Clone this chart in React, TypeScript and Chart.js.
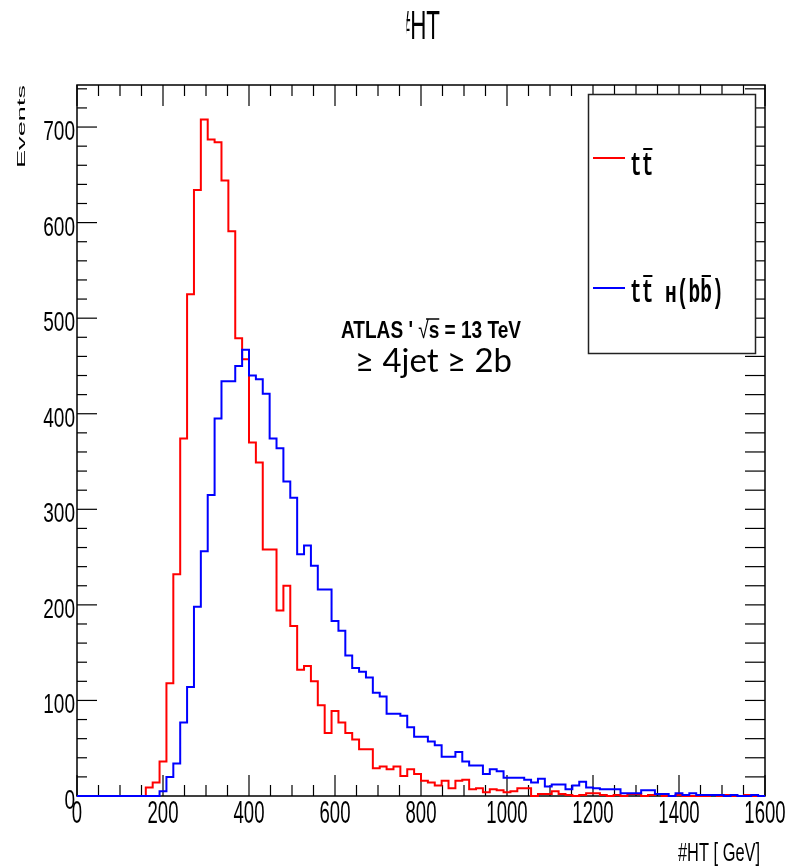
import React, { useEffect, useRef } from 'react';
import { Chart, registerables } from 'chart.js';

Chart.register(...registerables);

// ---------------- data ----------------
const HT_MIN = 0;
const HT_MAX = 1600;
const BIN_WIDTH = 16; // GeV, 100 bins
const Y_MAX = 744;

// t tbar (red)
const TT_COUNTS = [
  0, 0, 0, 0, 0, 0, 0, 0, 0, 0,
  9, 14, 36, 118, 232, 374, 525, 634, 708, 687,
  684, 644, 591, 479, 457, 370, 349, 258, 258, 194,
  220, 178, 132, 136, 120, 95, 66, 89, 77, 66,
  59, 49, 49, 29, 31, 28, 31, 21, 28, 23,
  16, 14, 11, 16, 8, 16, 17, 7, 8, 4,
  7, 6, 4, 5, 8, 8, 0, 2, 2, 5,
  2, 1, 0, 1, 3, 3, 1, 0, 1, 0,
  2, 2, 0, 1, 2, 0, 0, 1, 0, 0,
  0, 0, 1, 0, 1, 0, 0, 1, 0, 0,
];

// t tbar H(b bbar) (blue)
const TTH_COUNTS = [
  0, 0, 0, 0, 0, 0, 0, 0, 0, 0,
  0, 0, 5, 20, 34, 77, 114, 198, 256, 315,
  395, 434, 434, 450, 467, 440, 436, 421, 374, 364,
  329, 312, 253, 262, 241, 216, 216, 183, 173, 147,
  134, 130, 124, 108, 104, 86, 86, 84, 72, 62,
  62, 57, 53, 41, 41, 46, 36, 32, 32, 23,
  28, 26, 19, 19, 19, 17, 14, 18, 10, 12,
  12, 7, 11, 15, 9, 8, 7, 7, 7, 3,
  3, 3, 6, 6, 2, 2, 0, 3, 1, 3,
  1, 1, 1, 1, 0, 1, 0, 0, 1, 0,
];

const X_TICK_VALUES = [0, 200, 400, 600, 800, 1000, 1200, 1400, 1600];
const X_TICK_LABELS = ['0', '200', '400', '600', '800', '1000', '1200', '1400', '1600'];
const Y_TICK_VALUES = [0, 100, 200, 300, 400, 500, 600, 700];
const Y_TICK_LABELS = ['0', '100', '200', '300', '400', '500', '600', '700'];

const SERIES_NAMES = ['tt\u0304', 'tt\u0304 H(bb\u0304)'];
const SERIES_COLORS = ['#ff0000', '#0000ff'];

const TITLE = '#HT';
const X_TITLE = '#HT [ GeV]';
const Y_TITLE = 'Events';
const ATLAS_PARTS = ["ATLAS ' ", '\u221A', 's', ' = 13 TeV'];
const SELECTION = '\u2265 4jet \u2265 2b';

// legend glyphs drawn with manual overbars
const LEGEND_GLYPHS = [
  [{ c: 't' }, { c: 't', bar: true }],
  [
    { c: 't' }, { c: 't', bar: true }, { c: ' ' }, { c: 'H', small: true },
    { c: '(' }, { c: 'b' }, { c: 'b', bar: true }, { c: ')' },
  ],
];

const SANS = '"Liberation Sans", Arial, sans-serif';
const MONO = '"Liberation Mono", "DejaVu Sans Mono", monospace';

function toSteps(counts: number[]) {
  const pts = counts.map((v, i) => ({ x: HT_MIN + i * BIN_WIDTH, y: v }));
  pts.push({ x: HT_MAX, y: counts[counts.length - 1] });
  return pts;
}

type TextOpts = {
  size: number;
  family?: string;
  weight?: string;
  width?: number;
  sx?: number;
  sy?: number;
  align?: CanvasTextAlign;
  baseline?: CanvasTextBaseline;
  rotate?: number;
  color?: string;
};

function drawText(ctx: CanvasRenderingContext2D, text: string, x: number, y: number, o: TextOpts) {
  ctx.save();
  ctx.font = `${o.weight ?? 'normal'} ${o.size}px ${o.family ?? SANS}`;
  const w = ctx.measureText(text).width;
  const sx = o.width ? o.width / w : o.sx ?? 1;
  ctx.translate(x, y);
  if (o.rotate) ctx.rotate(o.rotate);
  ctx.scale(sx, o.sy ?? 1);
  ctx.textAlign = o.align ?? 'left';
  ctx.textBaseline = o.baseline ?? 'alphabetic';
  ctx.fillStyle = o.color ?? '#000';
  ctx.fillText(text, 0, 0);
  ctx.restore();
}

function line(ctx: CanvasRenderingContext2D, x1: number, y1: number, x2: number, y2: number) {
  ctx.beginPath();
  ctx.moveTo(x1, y1);
  ctx.lineTo(x2, y2);
  ctx.stroke();
}

const rootStyle = {
  id: 'rootStyle',
  beforeDraw(chart: any) {
    const ctx = chart.ctx as CanvasRenderingContext2D;
    ctx.save();
    ctx.fillStyle = '#fff';
    ctx.fillRect(0, 0, chart.width, chart.height);
    ctx.restore();
  },
  beforeDatasetsDraw(chart: any) {
    const ctx = chart.ctx as CanvasRenderingContext2D;
    const xs = chart.scales.x;
    const ys = chart.scales.y;
    const { left, right, top, bottom } = chart.chartArea;
    ctx.save();
    ctx.strokeStyle = '#000';
    ctx.lineWidth = 1.2;
    for (let v = HT_MIN; v <= HT_MAX; v += 50) {
      const px = xs.getPixelForValue(v);
      const L = v % 200 === 0 ? 21 : 11;
      line(ctx, px, bottom, px, bottom - L);
      line(ctx, px, top, px, top + L);
    }
    for (let v = 0; v <= Y_MAX; v += 20) {
      const py = ys.getPixelForValue(v);
      const L = v % 100 === 0 ? 20 : 10;
      line(ctx, left, py, left + L, py);
      line(ctx, right, py, right - 20, py);
    }
    ctx.lineWidth = 1.5;
    ctx.strokeRect(left, top, right - left, bottom - top);
    ctx.restore();
  },
  afterDatasetsDraw(chart: any) {
    const ctx = chart.ctx as CanvasRenderingContext2D;
    const xs = chart.scales.x;
    const ys = chart.scales.y;
    const { left, right, bottom } = chart.chartArea;

    // title (partly clipped '#', as in the original)
    ctx.save();
    ctx.beginPath();
    ctx.rect(406.5, 0, 400, 70);
    ctx.clip();
    drawText(ctx, TITLE, 440, 39, { size: 40, sx: 0.56, align: 'right' });
    ctx.restore();

    // x tick labels
    X_TICK_VALUES.forEach((v, i) => {
      drawText(ctx, X_TICK_LABELS[i], xs.getPixelForValue(v), bottom + 27, {
        size: 32, sx: 0.58, align: 'center',
      });
    });
    // y tick labels
    Y_TICK_VALUES.forEach((v, i) => {
      drawText(ctx, Y_TICK_LABELS[i], left - 2, ys.getPixelForValue(v) + 13, {
        size: 28, sx: 0.68, align: 'right',
      });
    });
    // axis titles
    drawText(ctx, X_TITLE, right - 5, 861, { size: 25, width: 82, align: 'right' });
    drawText(ctx, Y_TITLE, 25, 85, {
      size: 27, width: 83, sy: 0.43, align: 'right', rotate: -Math.PI / 2,
    });

    // ATLAS label
    ctx.save();
    ctx.font = `bold 24px ${SANS}`;
    const widths = ATLAS_PARTS.map((p) => ctx.measureText(p).width);
    const total = widths.reduce((a, b) => a + b, 0);
    const sx = 180 / total;
    ctx.translate(341, 338);
    ctx.scale(sx, 1);
    ctx.fillStyle = '#000';
    ctx.textBaseline = 'alphabetic';
    let cx = 0;
    let barStart = 0;
    let barEnd = 0;
    ATLAS_PARTS.forEach((p, i) => {
      if (i === 1) {
        ctx.font = `normal 24px ${SANS}`;
        barStart = cx + widths[i] * 0.75;
      } else {
        ctx.font = `bold 24px ${SANS}`;
      }
      ctx.fillText(p, cx, 0);
      cx += widths[i];
      if (i === 2) barEnd = cx;
    });
    ctx.strokeStyle = '#000';
    ctx.lineWidth = 1.5;
    line(ctx, barStart, -19, barEnd, -19);
    ctx.restore();

    drawText(ctx, SELECTION, 355, 372, { size: 32, family: 'Lato, "Noto Sans", sans-serif', width: 157 });

    // legend
    ctx.save();
    ctx.fillStyle = '#fff';
    ctx.fillRect(588, 94, 168, 260);
    ctx.strokeStyle = '#222';
    ctx.lineWidth = 1.5;
    ctx.strokeRect(588.5, 94.5, 167, 259);
    const lineYs = [158, 288];
    const baseYs = [175, 302];
    const adv = 11.7;
    const x0 = 630;
    LEGEND_GLYPHS.forEach((glyphs, k) => {
      ctx.strokeStyle = SERIES_COLORS[k];
      ctx.lineWidth = 2;
      line(ctx, 593, lineYs[k], 625, lineYs[k]);
      glyphs.forEach((g: any, i: number) => {
        const size = g.small ? 23 : 34;
        drawText(ctx, g.c, x0 + i * adv, baseYs[k], {
          size, family: MONO, weight: 'bold', sx: adv / (0.6 * size),
        });
        if (g.bar) {
          ctx.strokeStyle = '#000';
          ctx.lineWidth = 2;
          line(ctx, x0 + i * adv + 1.5, baseYs[k] - 26, x0 + (i + 1) * adv - 1, baseYs[k] - 26);
        }
      });
    });
    ctx.restore();
  },
};

export default function App() {
  const ref = useRef<HTMLCanvasElement | null>(null);

  useEffect(() => {
    if (!ref.current) return;
    const chart = new Chart(ref.current, {
      type: 'line',
      data: {
        datasets: [
          {
            label: SERIES_NAMES[1],
            data: toSteps(TTH_COUNTS),
            borderColor: SERIES_COLORS[1],
            borderWidth: 2,
            stepped: 'before',
            pointRadius: 0,
            fill: false,
            clip: 3,
            order: 0,
          },
          {
            label: SERIES_NAMES[0],
            data: toSteps(TT_COUNTS),
            borderColor: SERIES_COLORS[0],
            borderWidth: 2,
            stepped: 'before',
            pointRadius: 0,
            fill: false,
            clip: 3,
            order: 1,
          },
        ],
      },
      options: {
        animation: false,
        responsive: false,
        devicePixelRatio: 1,
        layout: { padding: { left: 77, right: 31, top: 85, bottom: 72 } },
        scales: {
          x: { type: 'linear', min: HT_MIN, max: HT_MAX, display: false },
          y: { type: 'linear', min: 0, max: Y_MAX, display: false },
        },
        plugins: {
          legend: { display: false },
          title: { display: false },
          tooltip: { enabled: false },
        },
      },
      plugins: [rootStyle],
    } as any);
    return () => chart.destroy();
  }, []);

  return (
    <div style={{ position: 'fixed', left: 0, top: 0, width: 796, height: 868, background: '#fff' }}>
      <canvas ref={ref} width={796} height={868} style={{ display: 'block' }} />
    </div>
  );
}
